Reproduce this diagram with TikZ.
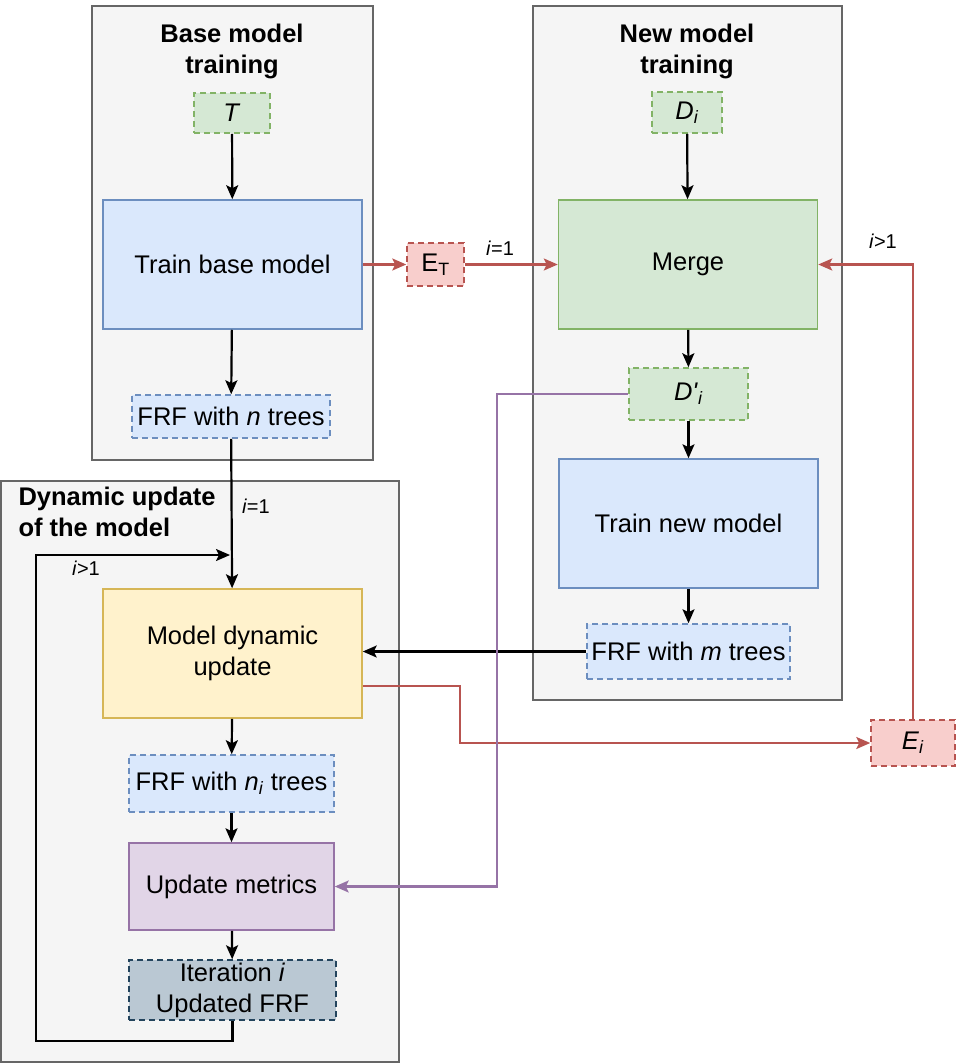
\documentclass[tikz,border=0pt]{standalone}
\usepackage{fontspec}
\setmainfont{Liberation Sans}
\usetikzlibrary{arrows.meta}
\definecolor{panelfill}{HTML}{F5F5F5}
\definecolor{panelline}{HTML}{666666}
\definecolor{bluefill}{HTML}{DAE8FC}
\definecolor{blueline}{HTML}{6C8EBF}
\definecolor{greenfill}{HTML}{D5E8D4}
\definecolor{greenline}{HTML}{82B366}
\definecolor{redfill}{HTML}{F8CECC}
\definecolor{redline}{HTML}{B85450}
\definecolor{yellowfill}{HTML}{FFF2CC}
\definecolor{yellowline}{HTML}{D6B656}
\definecolor{purplefill}{HTML}{E1D5E7}
\definecolor{purpleline}{HTML}{9673A6}
\definecolor{slatefill}{HTML}{BAC8D3}
\definecolor{slateline}{HTML}{23445D}
\begin{document}
\begin{tikzpicture}[x=1pt,y=-1pt,
    every node/.style={font=\fontsize{25.5}{31}\selectfont},
    panel/.style={draw=panelline,fill=panelfill,line width=1.8pt},
    paneltitle/.style={font=\fontsize{25.5}{31}\selectfont\bfseries},
    block/.style={draw,line width=1.5pt,minimum width=259pt,minimum height=129pt,align=center,inner sep=0pt},
    tag/.style={draw,line width=1.5pt,dash pattern=on 6pt off 4pt,inner sep=0pt,align=center},
    flow/.style={-{Stealth[length=14pt,width=12pt,inset=3pt]},line width=2.2pt},
    cond/.style={font=\fontsize{20}{24}\selectfont}]
    \fill[white] (0,0) rectangle (957,1063);
    \useasboundingbox (0,0) rectangle (957,1063);
    % panels
    \draw[panel] (92,6) rectangle (373,460);
    \draw[panel] (533,6) rectangle (842,700);
    \draw[panel] (1,481) rectangle (399,1062);
    \node[paneltitle,align=center] (basetitle) at (232,51) {Base model\\training};
    \node[paneltitle,align=center] (newtitle) at (687,51) {New model\\training};
    \node[paneltitle,align=left,anchor=west] (dyntitle) at (15,512) {Dynamic update\\of the model};
    % base model training
    \node[tag,fill=greenfill,draw=greenline,minimum width=76pt,minimum height=40pt] (tset) at (232,113) {\textit{T}};
    \node[block,fill=bluefill,draw=blueline] (trainbase) at (232.5,264.5) {Train base model};
    \node[tag,fill=bluefill,draw=blueline,minimum width=198pt,minimum height=43pt] (frfn) at (231,416.5) {FRF with \textit{n} trees};
    \node[tag,fill=redfill,draw=redline,minimum width=57pt,minimum height=43pt] (eT) at (435.5,264.5) {E\textsubscript{T}};
    % new model training
    \node[tag,fill=greenfill,draw=greenline,minimum width=70pt,minimum height=41pt] (di) at (687,112.5) {\textit{D}\textsubscript{\textit{i}}};
    \node[block,fill=greenfill,draw=greenline] (merge) at (688,264.5) {Merge};
    \node[tag,fill=greenfill,draw=greenline,minimum width=119pt,minimum height=52pt] (dpi) at (688.5,394) {\textit{D\textquotesingle}\textsubscript{\textit{i}}};
    \node[block,fill=bluefill,draw=blueline] (trainnew) at (688.5,523.5) {Train new model};
    \node[tag,fill=bluefill,draw=blueline,minimum width=203pt,minimum height=55pt] (frfm) at (688.5,651.5) {FRF with \textit{m} trees};
    % dynamic update
    \node[block,fill=yellowfill,draw=yellowline] (update) at (232.5,653.5) {Model dynamic\\update};
    \node[tag,fill=bluefill,draw=blueline,minimum width=205pt,minimum height=57pt] (frfni) at (231.5,783.5) {FRF with \textit{n}\textsubscript{\textit{i}} trees};
    \node[block,fill=purplefill,draw=purpleline,minimum width=205pt,minimum height=87pt] (metrics) at (231.5,886.5) {Update metrics};
    \node[tag,fill=slatefill,draw=slateline,minimum width=207pt,minimum height=60pt] (iter) at (232.5,990) {Iteration \textit{i}\\Updated FRF};
    \node[tag,fill=redfill,draw=redline,minimum width=84pt,minimum height=46pt] (ei) at (913,743) {\textit{E}\textsubscript{\textit{i}}};
    \coordinate (loopin) at (230,555);
    % connectors
    \draw[flow] (tset) -- (trainbase);
    \draw[flow] (trainbase) -- (frfn);
    \draw[flow] (frfn) -- (update) node[cond,pos=0.45,right=6pt] {\textit{i}=1};
    \draw[flow] (di) -- (merge);
    \draw[flow] (merge) -- (dpi);
    \draw[flow] (dpi) -- (trainnew);
    \draw[flow] (trainnew) -- (frfm);
    \draw[flow] (frfni) -- (metrics);
    \draw[flow] (metrics) -- (iter);
    \draw[flow] (update) -- (frfni);
    \draw[flow] (frfm.west) -- (frfm.west -| update.east);
    \draw[flow] (iter.south) -- ++(0,20) -| (36,555) -- (loopin);
    \node[cond] (loopcond) at (86,568) {\textit{i}>1};
    \draw[flow,redline] (trainbase) -- (eT);
    \draw[flow,redline] (eT) -- (merge) node[cond,black,pos=0.38,above=5pt] {\textit{i}=1};
    \draw[flow,redline] ([yshift=-32.5pt]update.east) -- ++(97,0) |- (ei.west);
    \draw[flow,redline] (ei.north) |- (merge.east);
    \node[cond] (backcond) at (883,241) {\textit{i}>1};
    \draw[flow,purpleline] (dpi.west) -- ++(-131,0) |- (metrics.east);
\end{tikzpicture}
\end{document}
